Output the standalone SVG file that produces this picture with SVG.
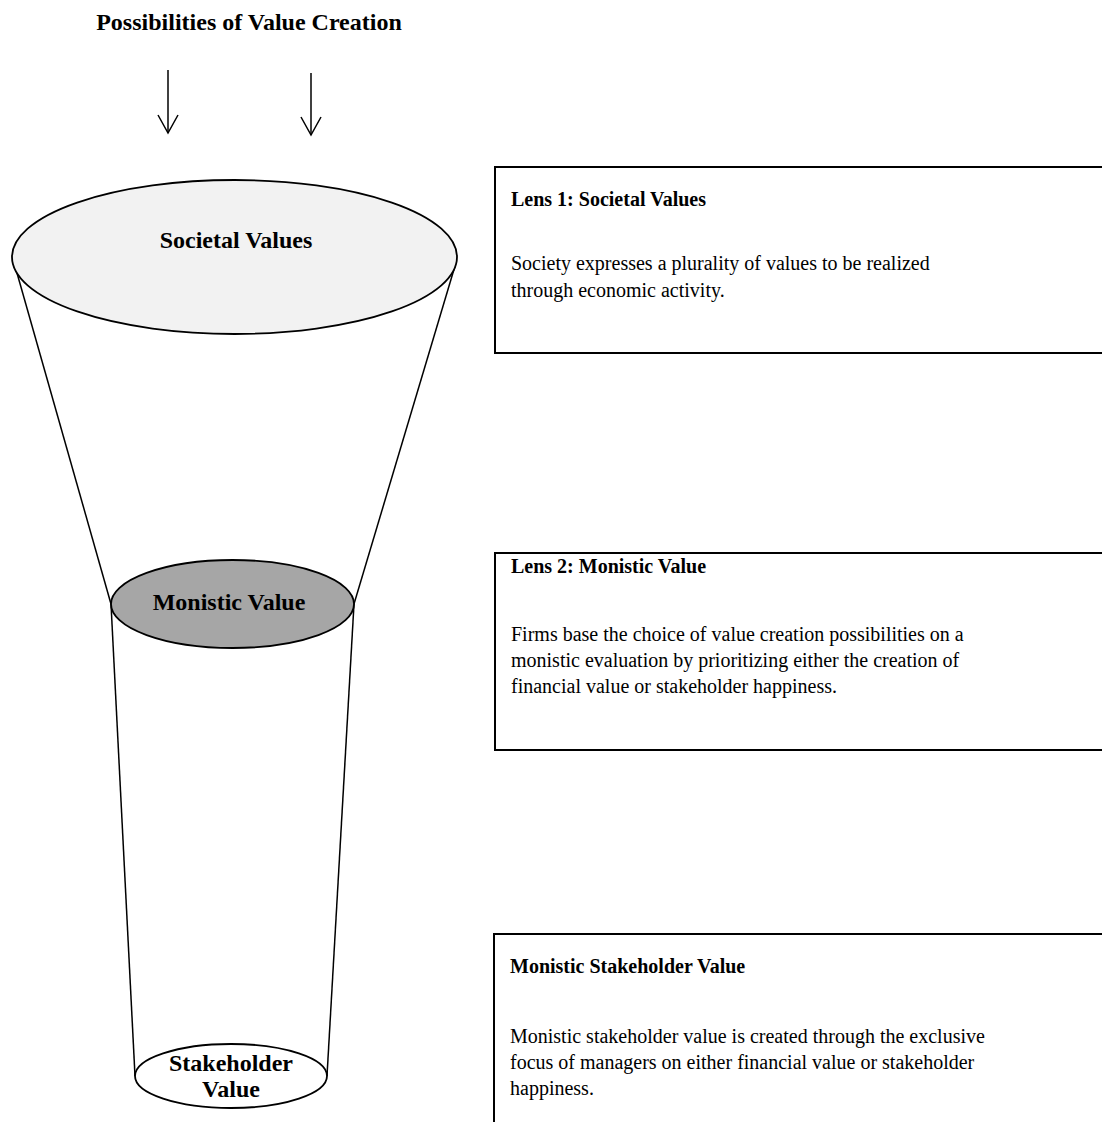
<svg xmlns="http://www.w3.org/2000/svg" width="1102" height="1122" viewBox="0 0 1102 1122">
<defs>
<marker id="vhead" markerWidth="22" markerHeight="22" refX="19" refY="11" orient="auto" markerUnits="userSpaceOnUse" viewBox="0 0 22 22">
<path d="M1,1 L19,11 L1,21" fill="none" stroke="#000" stroke-width="1.5"/>
</marker>
<style>
.t{font-family:"Liberation Serif","Times New Roman",serif;fill:#000}
.big{font-size:24px;font-weight:bold}
.h{font-size:20px;font-weight:bold}
.p{font-size:20px}
.box{fill:#fff;stroke:#000;stroke-width:2}
.ell{stroke:#000;stroke-width:1.8}
.fl{stroke:#000;stroke-width:1.5;fill:none}
</style>
</defs>
<rect width="1102" height="1122" fill="#fff"/>
<text class="t big" x="249" y="30" text-anchor="middle">Possibilities of Value Creation</text>
<g id="connectors">
<line class="fl" x1="168" y1="70" x2="168" y2="133" marker-end="url(#vhead)"/>
<line class="fl" x1="311" y1="73" x2="311" y2="135" marker-end="url(#vhead)"/>
<line class="fl" x1="15" y1="266" x2="111" y2="604"/>
<line class="fl" x1="455" y1="266" x2="354" y2="604"/>
<line class="fl" x1="111" y1="604" x2="135" y2="1076"/>
<line class="fl" x1="354" y1="604" x2="327" y2="1076"/>
</g>
<g id="societal">
<ellipse class="ell" cx="234.5" cy="257" rx="222.5" ry="77" fill="#f2f2f2"/>
<text class="t big" x="236" y="248" text-anchor="middle">Societal Values</text>
</g>
<g id="monistic">
<ellipse class="ell" cx="232.5" cy="604" rx="121.5" ry="44" fill="#a6a6a6"/>
<text class="t big" x="229" y="610" text-anchor="middle">Monistic Value</text>
</g>
<g id="stakeholder">
<ellipse class="ell" cx="231" cy="1076" rx="96" ry="32" fill="#fff"/>
<text class="t big" x="231" y="1071" text-anchor="middle">Stakeholder</text>
<text class="t big" x="231" y="1097" text-anchor="middle">Value</text>
</g>
<g id="lens1">
<rect class="box" x="495" y="167" width="620" height="186"/>
<text class="t h" x="511" y="206">Lens 1: Societal Values</text>
<text class="t p" x="511" y="270">Society expresses a plurality of values to be realized</text>
<text class="t p" x="511" y="297">through economic activity.</text>
</g>
<g id="lens2">
<rect class="box" x="495" y="553" width="620" height="197"/>
<text class="t h" x="511" y="573">Lens 2: Monistic Value</text>
<text class="t p" x="511" y="641">Firms base the choice of value creation possibilities on a</text>
<text class="t p" x="511" y="667">monistic evaluation by prioritizing either the creation of</text>
<text class="t p" x="511" y="693">financial value or stakeholder happiness.</text>
</g>
<g id="msv">
<rect class="box" x="494" y="934" width="620" height="200"/>
<text class="t h" x="510" y="973">Monistic Stakeholder Value</text>
<text class="t p" x="510" y="1043">Monistic stakeholder value is created through the exclusive</text>
<text class="t p" x="510" y="1069">focus of managers on either financial value or stakeholder</text>
<text class="t p" x="510" y="1095">happiness.</text>
</g>
</svg>
